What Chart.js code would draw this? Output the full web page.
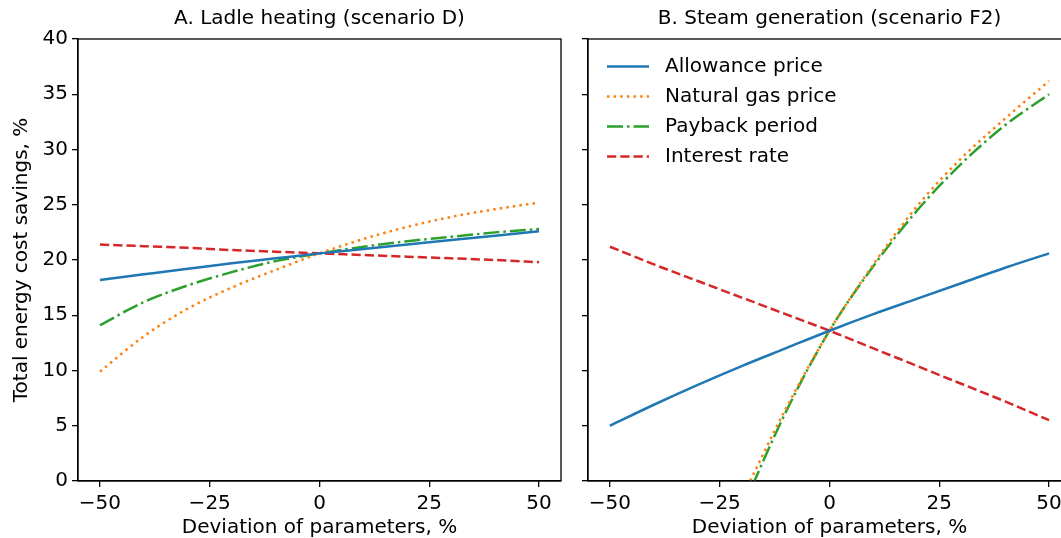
<!DOCTYPE html>
<html><head><meta charset="utf-8">
<script src="https://cdn.jsdelivr.net/npm/chart.js@4.4.1/dist/chart.umd.min.js"></script>
<style>
html,body{margin:0;padding:0;background:#fff;overflow:hidden;}
#wrap{position:relative;width:1061px;height:538px;overflow:hidden;background:#fff;}
#c1{position:absolute;left:0;top:0;width:640px;height:540px;}
#c2{position:absolute;left:570px;top:0;width:519px;height:540px;}
</style></head><body>
<div id="wrap"><canvas id="c1" width="640" height="540"></canvas><canvas id="c2" width="519" height="540"></canvas></div>
<script>
// ---- data ----
const deviation = [-50, -40, -30, -20, -10, 0, 10, 20, 30, 40, 50];
const seriesNames = ['Allowance price', 'Natural gas price', 'Payback period', 'Interest rate'];
const xTickValues = [-50, -25, 0, 25, 50];
const yTickValues = [0, 5, 10, 15, 20, 25, 30, 35, 40];
const panelTitles = ['A. Ladle heating (scenario D)', 'B. Steam generation (scenario F2)'];
const xAxisTitle = 'Deviation of parameters, %';
const yAxisTitle = 'Total energy cost savings, %';

const ladleAllowance = [18.2, 18.7, 19.2, 19.7, 20.15, 20.6, 21.0, 21.4, 21.8, 22.2, 22.6];
const ladleGas       = [9.9, 13.1, 15.6, 17.5, 19.1, 20.6, 21.9, 23.0, 23.9, 24.6, 25.2];
const ladlePayback   = [14.1, 16.2, 17.7, 18.9, 19.9, 20.6, 21.2, 21.7, 22.1, 22.5, 22.8];
const ladleInterest  = [21.4, 21.25, 21.1, 20.9, 20.75, 20.6, 20.45, 20.3, 20.15, 20.0, 19.8];

const steamAllowance = [5.0, 6.9, 8.7, 10.4, 12.0, 13.6, 15.1, 16.5, 17.9, 19.3, 20.6];
const steamGas       = [null, null, null, -1.6, 6.5, 13.6, 19.6, 24.9, 29.2, 32.8, 36.2];
const steamPayback   = [null, null, null, -2.6, 6.2, 13.6, 19.45, 24.5, 28.7, 32.2, 35.0];
const steamInterest  = [21.2, 19.6, 18.1, 16.6, 15.1, 13.6, 12.0, 10.4, 8.8, 7.2, 5.5];

// ---- styles ----
const FONT = '"DejaVu Sans", sans-serif';
const FS = 20;
const LW = 2.5;
const styles = [
  {color: '#1f77b4', dash: []},
  {color: '#ff7f0e', dash: [1 * LW, 1.65 * LW]},
  {color: '#2ca02c', dash: [6.4 * LW, 1.6 * LW, 1 * LW, 1.6 * LW]},
  {color: '#d62728', dash: [3.7 * LW, 1.6 * LW]}
];

function makeDatasets(series) {
  return series.map((vals, i) => ({
    label: seriesNames[i],
    data: deviation.map((x, k) => ({x: x, y: vals[k]})),
    borderColor: styles[i].color,
    backgroundColor: styles[i].color,
    borderDash: styles[i].dash,
    borderWidth: LW,
    pointRadius: 0,
    cubicInterpolationMode: 'monotone',
    fill: false
  }));
}

const framePlugin = {
  id: 'frame',
  afterDatasetsDraw(chart, args, opts) {
    const {ctx, chartArea: a} = chart;
    ctx.save();
    ctx.strokeStyle = '#000';
    ctx.lineWidth = 1.3;
    ctx.setLineDash([]);
    ctx.strokeRect(a.left, a.top, a.right - a.left, a.bottom - a.top);
    ctx.fillStyle = '#000';
    ctx.font = FS + 'px ' + FONT;
    ctx.textAlign = 'center';
    ctx.textBaseline = 'middle';
    ctx.fillText(opts.title, (a.left + a.right) / 2, 19);
    if (opts.legend) {
      chart.data.datasets.forEach((ds, i) => {
        const y = a.top + 27.5 + 30 * i;
        ctx.beginPath();
        ctx.strokeStyle = ds.borderColor;
        ctx.lineWidth = LW;
        ctx.lineCap = 'butt';
        ctx.setLineDash(ds.borderDash);
        ctx.moveTo(a.left + 19, y);
        ctx.lineTo(a.left + 61, y);
        ctx.stroke();
        ctx.setLineDash([]);
        ctx.fillStyle = '#000';
        ctx.textAlign = 'left';
        ctx.fillText(ds.label, a.left + 77, y);
      });
    }
    ctx.restore();
  }
};

function fmt(v) { return v < 0 ? '\u2212' + Math.abs(v) : String(v); }

function makeChart(id, series, title, showYLabels, showLegend, padRight, yWidth) {
  return new Chart(document.getElementById(id), {
    type: 'line',
    data: {datasets: makeDatasets(series)},
    plugins: [framePlugin],
    options: {
      responsive: false,
      animation: false,
      devicePixelRatio: 1,
      layout: {padding: {left: 0, right: padRight, top: 39, bottom: 0}},
      plugins: {
        legend: {display: false},
        tooltip: {enabled: false},
        title: {display: false},
        frame: {title: title, legend: showLegend}
      },
      scales: {
        x: {
          type: 'linear', min: -55, max: 55,
          afterBuildTicks: s => { s.ticks = xTickValues.map(v => ({value: v})); },
          afterFit: s => { s.height = 59; },
          grid: {drawOnChartArea: false, drawTicks: true, tickLength: 6, color: '#000', lineWidth: 1.3},
          border: {display: true, color: '#000', width: 1.3},
          ticks: {color: '#000', font: {family: FONT, size: FS}, padding: 5, maxRotation: 0, callback: v => fmt(v)},
          title: {display: true, text: xAxisTitle, color: '#000', font: {family: FONT, size: FS}, padding: {top: 0, bottom: 0}}
        },
        y: {
          type: 'linear', min: 0, max: 40,
          afterBuildTicks: s => { s.ticks = yTickValues.map(v => ({value: v})); },
          afterFit: s => { s.width = yWidth; },
          grid: {drawOnChartArea: false, drawTicks: true, tickLength: 6, color: '#000', lineWidth: 1.3},
          border: {display: true, color: '#000', width: 1.3},
          ticks: {display: showYLabels, color: '#000', font: {family: FONT, size: FS}, padding: 4, callback: v => fmt(v)},
          title: {display: showYLabels, text: yAxisTitle, color: '#000', font: {family: FONT, size: FS}, padding: {top: 10, bottom: 0}}
        }
      }
    }
  });
}

makeChart('c1', [ladleAllowance, ladleGas, ladlePayback, ladleInterest], panelTitles[0], true, false, 79, 78);
makeChart('c2', [steamAllowance, steamGas, steamPayback, steamInterest], panelTitles[1], false, true, 18, 18);
</script>
</body></html>
